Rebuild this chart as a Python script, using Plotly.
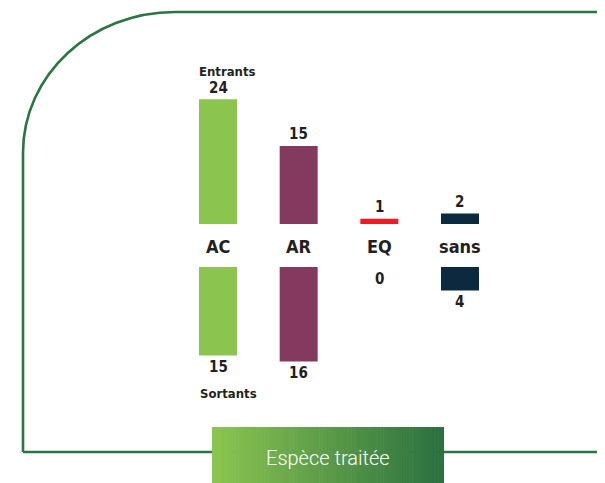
import plotly.graph_objects as go

# data
categories = ['AC', 'AR', 'EQ', 'sans']
entrants = [24, 15, 1, 2]
sortants = [15, 16, 0, 4]
bar_colors = ['#8bc550', '#843a5f', '#ed1c24', '#0b2a3f']

# the page body keeps its 8px margin, so the figure is drawn 8px in from the corner
OFF = 8
W, H = 605, 483 - OFF
TEXT = '#231f20'
FRAME = '#2b7443'
FONT_BOLD = 'DejaVu Sans Condensed, Liberation Sans Narrow, Arial Narrow, sans-serif'


def px(x):
    return (x - OFF) / W


def py(y):
    return 1 - (y - OFF) / H


# vertical scales (pixels per unit) of the two half charts
top_base, top_scale, top_max = 224, 5.2, 30
bot_base, bot_scale, bot_max = 267, 5.9, 25

fig = go.Figure()
fig.add_trace(go.Bar(x=categories, y=entrants, marker_color=bar_colors, marker_line_width=0,
                     xaxis='x', yaxis='y', hoverinfo='skip'))
fig.add_trace(go.Bar(x=categories, y=sortants, marker_color=bar_colors, marker_line_width=0,
                     xaxis='x2', yaxis='y2', hoverinfo='skip'))

x_dom = [px(177.7), px(500.3)]
hidden = dict(visible=False, showgrid=False, zeroline=False, fixedrange=True)
fig.update_layout(
    width=W, height=H, autosize=False,
    margin=dict(l=0, r=0, t=0, b=0),
    paper_bgcolor='white', plot_bgcolor='rgba(0,0,0,0)',
    showlegend=False, bargap=0.529,
    xaxis=dict(domain=x_dom, range=[-0.5, 3.5], anchor='y', **hidden),
    xaxis2=dict(domain=x_dom, range=[-0.5, 3.5], anchor='y2', **hidden),
    yaxis=dict(domain=[py(top_base), py(top_base - top_scale * top_max)], range=[0, top_max],
               anchor='x', **hidden),
    yaxis2=dict(domain=[py(bot_base + bot_scale * bot_max), py(bot_base)], range=[bot_max, 0],
                anchor='x2', **hidden),
)

val_font = dict(family=FONT_BOLD, size=15, color=TEXT, weight='bold')
for cat, v in zip(categories, entrants):
    fig.add_annotation(x=cat, y=v, xref='x', yref='y', yshift=11.5, text=str(v), showarrow=False,
                       yanchor='middle', font=val_font)
for cat, v in zip(categories, sortants):
    fig.add_annotation(x=cat, y=v, xref='x2', yref='y2', yshift=-11.5, text=str(v), showarrow=False,
                       yanchor='middle', font=val_font)

# category names between the two halves
for cat in categories:
    fig.add_annotation(x=cat, y=0, xref='x', yref='y', yshift=-23, text=cat, showarrow=False,
                       yanchor='middle', font=dict(family=FONT_BOLD, size=18, color=TEXT, weight='bold'))

fig.add_annotation(x=px(197), y=py(71), xref='paper', yref='paper', text='Entrants', showarrow=False,
                   xanchor='left', yanchor='middle', font=dict(family=FONT_BOLD, size=13, color=TEXT, weight='bold'))
fig.add_annotation(x=px(198), y=py(393), xref='paper', yref='paper', text='Sortants', showarrow=False,
                   xanchor='left', yanchor='middle', font=dict(family=FONT_BOLD, size=13, color=TEXT, weight='bold'))

# rounded green frame
frame_path = (f'M {px(23)} {py(452)} L {px(23)} {py(153)} '
              f'C {px(23)} {py(75)} {px(91)} {py(12)} {px(175)} {py(12)} '
              f'L {px(615)} {py(12)} M {px(23)} {py(452)} L {px(615)} {py(452)}')
fig.add_shape(type='path', path=frame_path, xref='paper', yref='paper',
              line=dict(color=FRAME, width=2.6))

# gradient banner
c0, c1 = (0x8b, 0xc5, 0x50), (0x2a, 0x70, 0x40)
bx0, bx1, by0, by1 = 212, 444, 427, 486
n = 80
step = (bx1 - bx0) / n
for i in range(n):
    t = i / (n - 1)
    col = 'rgb({},{},{})'.format(*[round(a + (b - a) * t) for a, b in zip(c0, c1)])
    fig.add_shape(type='rect', xref='paper', yref='paper',
                  x0=px(bx0 + i * step), x1=px(min(bx0 + (i + 1) * step + 0.6, bx1)),
                  y0=py(by1), y1=py(by0), fillcolor=col, line_width=0)

fig.add_annotation(x=px(328), y=py(458), xref='paper', yref='paper', text='Espèce traitée',
                   showarrow=False, xanchor='center', yanchor='middle',
                   font=dict(family='Roboto, sans-serif', size=20, color='white', weight=300))

fig.write_html('out.html')
